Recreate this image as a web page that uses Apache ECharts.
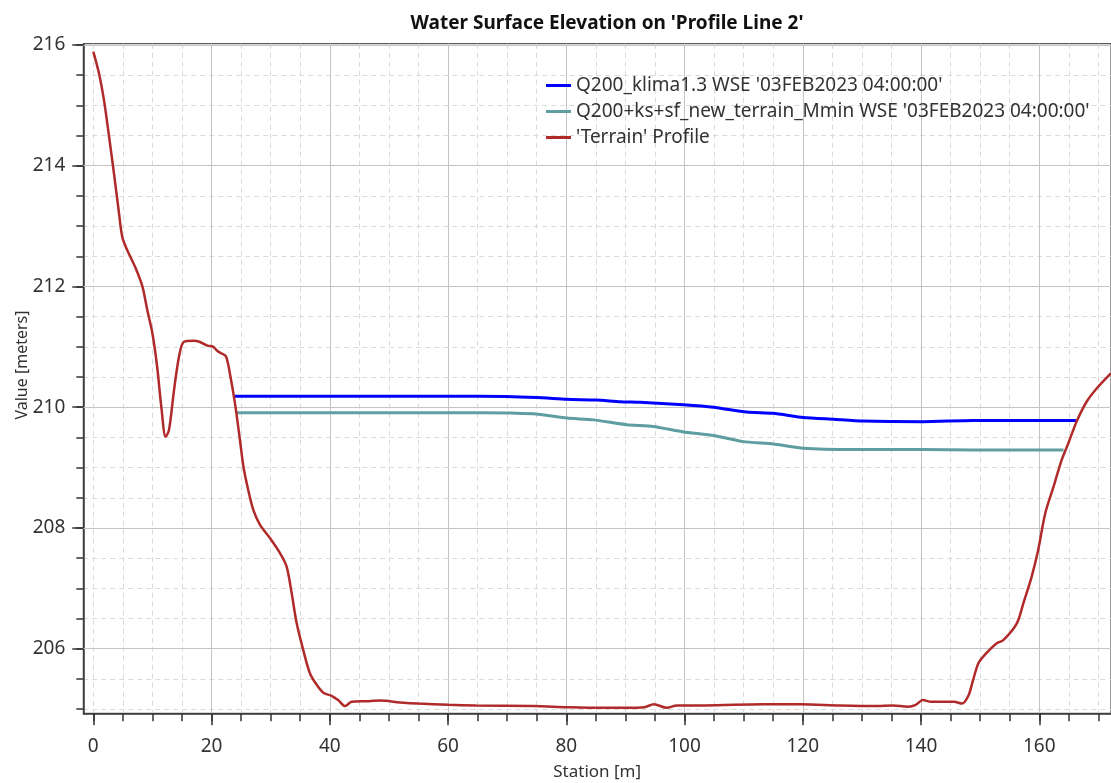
<!DOCTYPE html>
<html>
<head>
<meta charset="utf-8">
<script src="https://cdn.jsdelivr.net/npm/echarts@6/dist/echarts.min.js"></script>
<style>
  html, body { margin: 0; padding: 0; background: #fff; }
  #chart { width: 1111px; height: 783px; }
</style>
</head>
<body>
<div id="chart"></div>
<script>
// --- data ---
const terrainStation = [0, 0.96, 1.8, 2.67, 3.5, 4.35, 4.9, 5.75, 7.17, 8.3, 9.13, 10.0, 10.8, 11.5, 12.24, 12.8,
    13.65, 14.5, 15.3, 17.0, 18.05, 19.3, 20.3, 21.0, 21.7, 22.45, 23.1, 23.97, 24.8, 25.4, 26.2, 27.06,
    28.2, 29.9, 31.6, 32.7, 33.55, 34.4, 35.5, 36.65, 37.8, 38.9, 40.3, 41.4, 42.6, 43.7, 46.2, 48.5,
    51.9, 55.0, 60.1, 64.7, 74.4, 80.2, 84.7, 89.9, 93.2, 94.8, 97.0, 98.7, 103.5, 113.2, 119.7, 126.2,
    132.6, 135.2, 137.8, 139.1, 140.3, 141.7, 145.6, 146.9, 148.0, 148.8, 149.7, 150.8, 152.8, 153.9,
    156.2, 157.3, 158.7, 159.8, 161.0, 162.4, 163.8, 164.9, 166.3, 168.0, 169.7, 172.1];
const terrainElev = [215.89, 215.53, 215.09, 214.48, 213.87, 213.21, 212.82, 212.60, 212.30, 212.00, 211.61, 211.22,
    210.67, 210.01, 209.51, 209.62, 210.28, 210.84, 211.08, 211.10, 211.08, 211.02, 211.0, 210.93, 210.89,
    210.84, 210.56, 210.06, 209.46, 209.01, 208.63, 208.30, 208.05, 207.83, 207.58, 207.36, 206.92,
    206.42, 205.98, 205.59, 205.40, 205.27, 205.22, 205.15, 205.05, 205.12, 205.13, 205.14, 205.11,
    205.09, 205.07, 205.06, 205.05, 205.03, 205.02, 205.02, 205.03, 205.08, 205.02, 205.06, 205.06,
    205.08, 205.08, 205.06, 205.05, 205.06, 205.04, 205.07, 205.15, 205.12, 205.12, 205.09, 205.22,
    205.48, 205.76, 205.90, 206.09, 206.14, 206.42, 206.75, 207.19, 207.63, 208.24, 208.68, 209.13,
    209.40, 209.76, 210.09, 210.31, 210.56];

const klimaStation = [23.9, 65.4, 75, 80.1, 85.1, 89.1, 92.5, 99.8, 104.9, 110.5, 115, 120.1, 125.2, 130.2, 140.4, 148.8, 166.2];
const klimaWse = [210.18, 210.18, 210.16, 210.13, 210.12, 210.09, 210.08, 210.04, 210.0, 209.92, 209.90, 209.83, 209.80, 209.77, 209.76, 209.78, 209.78];

const mminStation = [24.3, 40, 65.4, 74.4, 80.1, 84.6, 90.2, 94.7, 99.8, 104.9, 109.9, 115, 120.1, 128.5, 140.4, 148.8, 164.1];
const mminWse = [209.91, 209.91, 209.91, 209.89, 209.82, 209.79, 209.71, 209.68, 209.59, 209.53, 209.43, 209.39, 209.32, 209.30, 209.30, 209.29, 209.29];

const seriesNames = [
    "Q200_klima1.3 WSE '03FEB2023 04:00:00'",
    "Q200+ks+sf_new_terrain_Mmin WSE '03FEB2023 04:00:00'",
    "'Terrain' Profile"
];

function zip(xs, ys) {
    return xs.map((x, i) => [x, ys[i]]);
}

// --- pixel layout of the plot area ---
const plotLeft = 83.3, plotTop = 43.7, plotBottom = 713.3, W = 1111, H = 783;
const x0px = 93.3, pxPerM = 5.9125;     // station 0 and scale
const y210px = 407.2, pxPerElev = 60.37; // 210 m and scale
const yPx = v => y210px - (v - 210) * pxPerElev;

const font = 'Noto Sans';
const axisColor = '#333';
const majorGrid = { show: true, lineStyle: { color: '#c4c4c4', width: 1, type: 'solid' } };
const minorGrid = { show: true, lineStyle: { color: '#dadada', width: 1, type: [5, 4] } };

function grid(opts) {
    return Object.assign({ outerBoundsMode: 'none', containLabel: false }, opts);
}

let chart = echarts.init(document.getElementById('chart'), null, { renderer: 'canvas' });

let option = {
    animation: false,
    backgroundColor: '#fff',
    textStyle: { fontFamily: font },
    title: {
        text: "Water Surface Elevation on 'Profile Line 2'",
        left: 602,
        textAlign: 'center',
        top: 9,
        textStyle: { fontSize: 19, fontWeight: 'bold', color: '#111', fontFamily: font }
    },
    legend: {
        orient: 'vertical',
        left: 541,
        top: 71,
        icon: 'rect',
        itemWidth: 25,
        itemHeight: 3,
        itemGap: 7,
        data: seriesNames,
        textStyle: { fontSize: 19, color: '#333', fontFamily: font }
    },
    graphic: [{
        type: 'text',
        x: 22,
        y: 365,
        rotation: Math.PI / 2,
        style: {
            text: 'Value [meters]',
            font: '16px "Noto Sans"',
            fill: '#333',
            textAlign: 'center',
            textVerticalAlign: 'middle'
        }
    }],
    grid: [
        // 0: frame (axis lines and border)
        grid({ left: plotLeft, right: 0, top: plotTop, bottom: H - plotBottom, show: true, borderColor: axisColor, borderWidth: 1, backgroundColor: 'transparent' }),
        // 1: x minor grid lines (every 5)
        grid({ left: x0px, width: 180 * pxPerM, top: plotTop, bottom: H - plotBottom }),
        // 2: x major (every 20)
        grid({ left: x0px, width: 160 * pxPerM, top: plotTop, bottom: H - plotBottom }),
        // 3: y minor (every 0.5)
        grid({ left: plotLeft, right: 0, top: yPx(216), bottom: H - yPx(205) }),
        // 4: y major (every 2)
        grid({ left: plotLeft, right: 0, top: yPx(216), bottom: H - yPx(206) }),
        // 5: data
        grid({ left: x0px, width: 180 * pxPerM, top: yPx(216), bottom: H - yPx(205) })
    ],
    xAxis: [
        {
            gridIndex: 0, type: 'value', min: 0, max: 1,
            name: 'Station [m]', nameLocation: 'middle', nameGap: 50,
            nameTextStyle: { fontSize: 17, color: '#333' },
            axisLine: { show: true, onZero: false, lineStyle: { color: axisColor, width: 1.5 } },
            axisTick: { show: false }, axisLabel: { show: false }, splitLine: { show: false }
        },
        {
            gridIndex: 1, type: 'value', min: 0, max: 180, interval: 5, z: 0,
            axisLine: { show: false },
            axisTick: { show: true, length: 8, lineStyle: { color: axisColor, width: 1.5 } },
            axisLabel: { show: false },
            splitLine: minorGrid
        },
        {
            gridIndex: 2, type: 'value', min: 0, max: 160, interval: 20, z: 1,
            axisLine: { show: false },
            axisTick: { show: true, length: 12, lineStyle: { color: axisColor, width: 1.5 } },
            axisLabel: { show: true, margin: 24, fontSize: 19, color: '#333' },
            splitLine: Object.assign({ showMinLine: false }, majorGrid)
        },
        { gridIndex: 3, type: 'value', min: 0, max: 1, show: false },
        { gridIndex: 4, type: 'value', min: 0, max: 1, show: false },
        { gridIndex: 5, type: 'value', min: 0, max: 180, show: false }
    ],
    yAxis: [
        {
            gridIndex: 0, type: 'value', min: 0, max: 1,
            axisLine: { show: true, onZero: false, lineStyle: { color: axisColor, width: 1.5 } },
            axisTick: { show: false }, axisLabel: { show: false }, splitLine: { show: false }
        },
        { gridIndex: 1, type: 'value', min: 0, max: 1, show: false },
        { gridIndex: 2, type: 'value', min: 0, max: 1, show: false },
        {
            gridIndex: 3, type: 'value', min: 205, max: 216, interval: 0.5, z: 0,
            axisLine: { show: false },
            axisTick: { show: true, length: 7, lineStyle: { color: axisColor, width: 1.5 } },
            axisLabel: { show: false },
            splitLine: minorGrid
        },
        {
            gridIndex: 4, type: 'value', min: 206, max: 216, interval: 2, z: 1,
            axisLine: { show: false },
            axisTick: { show: true, length: 11, lineStyle: { color: axisColor, width: 1.5 } },
            axisLabel: { show: true, margin: 18, fontSize: 19, color: '#333' },
            splitLine: majorGrid
        },
        { gridIndex: 5, type: 'value', min: 205, max: 216, show: false }
    ],
    series: [
        {
            name: seriesNames[0], type: 'line', xAxisIndex: 5, yAxisIndex: 5, clip: false,
            data: zip(klimaStation, klimaWse), showSymbol: false, symbol: 'none',
            smooth: 0.2, color: '#0000ff', lineStyle: { width: 3 }, z: 3
        },
        {
            name: seriesNames[1], type: 'line', xAxisIndex: 5, yAxisIndex: 5, clip: false,
            data: zip(mminStation, mminWse), showSymbol: false, symbol: 'none',
            smooth: 0.2, color: '#5f9ea0', lineStyle: { width: 3 }, z: 3
        },
        {
            name: seriesNames[2], type: 'line', xAxisIndex: 5, yAxisIndex: 5, clip: false,
            data: zip(terrainStation, terrainElev), showSymbol: false, symbol: 'none',
            smooth: 0.3, color: '#b02a2a', lineStyle: { width: 2.5 }, z: 4
        }
    ]
};

option && chart.setOption(option);
</script>
</body>
</html>
